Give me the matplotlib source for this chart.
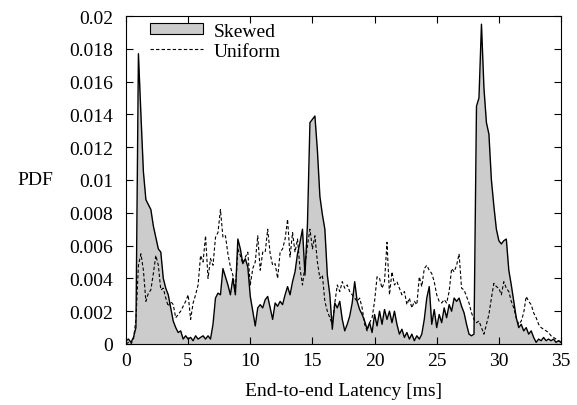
import numpy as np
import matplotlib
matplotlib.use("Agg")
import matplotlib.pyplot as plt
from matplotlib.patches import Patch
from matplotlib.lines import Line2D

plt.rcParams['font.family'] = ['Liberation Serif', 'DejaVu Serif']

# latency bins [ms], 0.2 ms apart
latency = np.round(np.arange(0, 35.01, 0.2), 1)

# PDF values in thousandths (x 1e-3)
skewed_milli = [
    0.2, 0.3, 0.1, 0.4, 1.0, 17.7, 14.0, 10.5, 8.8, 8.5,
    8.2, 7.2, 6.5, 5.8, 5.6, 4.0, 3.4, 3.0, 2.2, 1.4,
    1.0, 0.7, 0.8, 0.3, 0.5, 0.3, 0.4, 0.2, 0.5, 0.3,
    0.4, 0.5, 0.3, 0.5, 0.3, 1.2, 2.8, 3.1, 3.0, 4.6,
    4.1, 3.6, 3.0, 4.0, 3.0, 6.4, 5.8, 4.9, 5.2, 4.7,
    2.9, 2.0, 1.1, 2.2, 2.4, 2.2, 2.7, 2.9, 2.2, 1.5,
    2.5, 2.3, 2.6, 2.4, 3.0, 3.5, 3.0, 3.8, 4.4, 5.5,
    6.2, 7.0, 4.2, 7.3, 13.5, 13.7, 13.9, 11.8, 9.0, 7.9,
    7.0, 4.2, 3.0, 0.9, 2.5, 2.2, 2.6, 1.5, 0.8, 1.2,
    1.7, 2.5, 3.8, 2.6, 2.1, 1.8, 1.4, 0.9, 1.3, 0.7,
    1.8, 1.1, 2.0, 1.2, 2.1, 1.5, 2.0, 1.3, 2.0, 1.2,
    0.6, 0.9, 0.4, 0.7, 0.3, 0.6, 0.2, 0.5, 0.3, 0.6,
    1.5, 2.8, 3.5, 1.2, 2.1, 1.0, 1.8, 1.3, 2.2, 1.6,
    2.4, 2.0, 2.8, 2.6, 2.8, 2.3, 1.9, 1.2, 0.6, 0.5,
    0.6, 14.5, 15.0, 19.5, 15.6, 13.5, 12.8, 10.0, 8.4, 7.0,
    6.3, 6.1, 6.3, 6.4, 4.5, 3.6, 2.6, 1.6, 1.0, 1.2,
    0.8, 1.0, 0.6, 0.8, 0.4, 0.1, 0.3, 0.2, 0.4, 0.2,
    0.3, 0.2, 0.3, 0.1, 0.2, 0.1,
]

uniform_milli = [
    0.0, 0.1, 0.0, 0.3, 1.5, 4.8, 5.5, 4.5, 2.6, 3.1,
    3.3, 4.3, 5.4, 4.8, 3.3, 3.4, 2.8, 2.3, 2.6, 2.4,
    1.6, 1.8, 2.0, 2.3, 2.6, 3.0, 1.5, 2.5, 3.0, 3.6,
    5.4, 5.0, 6.6, 4.0, 5.2, 4.8, 6.5, 6.8, 8.2, 6.5,
    6.6, 5.5, 4.7, 4.2, 3.2, 5.8, 5.4, 4.9, 5.3, 5.6,
    3.6, 4.6, 5.0, 6.6, 4.5, 5.6, 5.6, 7.0, 5.5, 4.8,
    4.9, 4.0, 5.6, 5.8, 6.4, 7.6, 5.3, 6.8, 5.6, 6.4,
    4.6, 3.6, 4.8, 6.0, 7.0, 5.8, 6.6, 5.0, 4.0, 4.2,
    2.6, 2.0, 1.6, 1.2, 2.5, 3.6, 3.2, 3.8, 3.4, 3.6,
    3.2, 3.0, 2.8, 2.6, 2.8, 2.2, 1.2, 0.8, 1.3, 1.6,
    2.6, 4.1, 4.0, 3.4, 3.8, 6.2, 3.0, 4.4, 3.6, 3.8,
    3.4, 3.0, 3.2, 2.4, 2.8, 2.2, 2.6, 2.4, 4.1, 3.5,
    4.6, 4.8, 4.5, 4.3, 3.8, 3.0, 2.6, 2.5, 2.7, 2.5,
    3.2, 4.6, 4.4, 4.8, 5.5, 3.4, 3.3, 2.9, 2.5, 1.9,
    1.5, 1.3, 1.4, 1.0, 0.6, 1.2, 1.8, 2.8, 3.7, 3.5,
    3.4, 3.0, 3.8, 3.4, 3.2, 2.6, 2.2, 1.6, 1.2, 1.4,
    1.9, 2.9, 2.6, 2.4, 1.9, 1.6, 1.2, 1.0, 0.9, 0.8,
    0.7, 0.5, 0.4, 0.3, 0.2, 0.1,
]

skewed = np.array(skewed_milli) * 1e-3
uniform = np.array(uniform_milli) * 1e-3

xticks = [0, 5, 10, 15, 20, 25, 30, 35]
yticks = [0, 0.002, 0.004, 0.006, 0.008, 0.01, 0.012, 0.014, 0.016, 0.018, 0.02]
ytick_labels = ['0', '0.002', '0.004', '0.006', '0.008', '0.01', '0.012',
                '0.014', '0.016', '0.018', '0.02']

fs = 14
dash = (0, (3, 2))

fig = plt.figure(figsize=(5.77, 4.06), dpi=100)
ax = fig.add_axes([126/577, 61/406, 435/577, 328/406])

ax.fill_between(latency, 0, skewed, color='#cccccc', linewidth=0)
ax.plot(latency, skewed, color='black', linewidth=1.0)
ax.plot(latency, uniform, color='black', linewidth=0.8, linestyle=dash)

ax.set_xlim(0, 35)
ax.set_ylim(0, 0.02)
ax.set_xticks(xticks)
ax.set_yticks(yticks)
ax.set_yticklabels(ytick_labels)
ax.tick_params(direction='in', length=5, width=0.8, top=True, right=True,
               labelsize=fs)
ax.tick_params(axis='y', pad=9)
ax.tick_params(axis='x', pad=6)
for s in ax.spines.values():
    s.set_linewidth(0.8)

ax.set_xlabel('End-to-end Latency [ms]', fontsize=fs, labelpad=9)
fig.text(35/577, 1 - 181/406, 'PDF', fontsize=fs, ha='center', va='center')

handles = [Patch(facecolor='#cccccc', edgecolor='black', linewidth=0.8),
           Line2D([], [], color='black', linewidth=0.8, linestyle=dash)]
ax.legend(handles, ['Skewed', 'Uniform'], loc='upper left', frameon=False,
          fontsize=fs, bbox_to_anchor=(0.028, 1.015), handlelength=2.75,
          handleheight=0.5, handletextpad=0.55, labelspacing=0.15,
          borderaxespad=0.2)

fig.savefig('out.png', dpi=100)
